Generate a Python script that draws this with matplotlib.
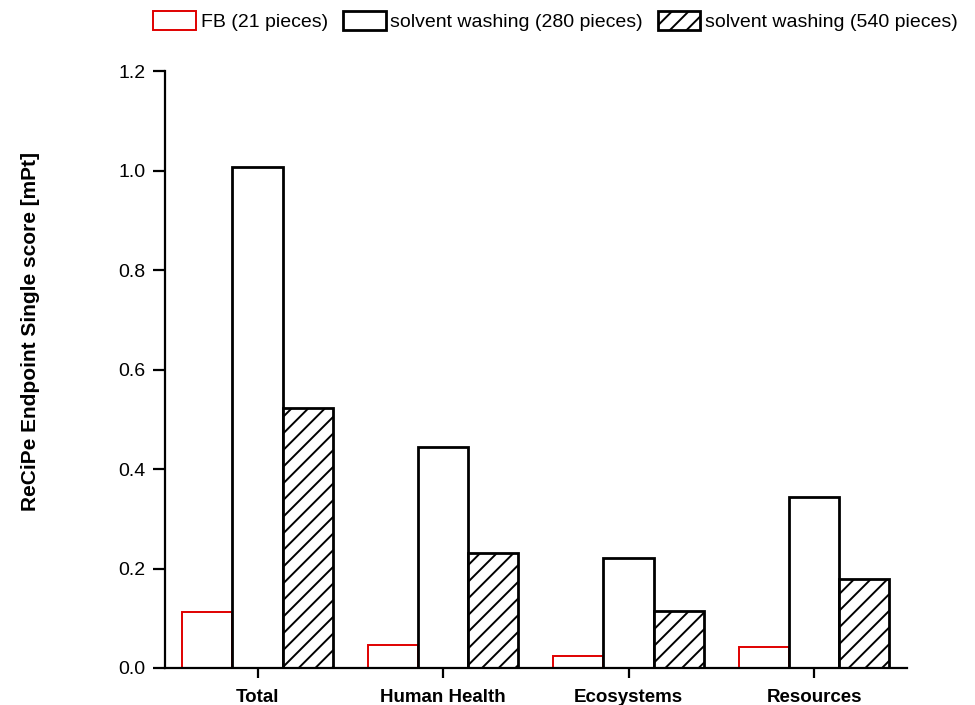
import numpy as np
import matplotlib
matplotlib.use('Agg')
import matplotlib.pyplot as plt

plt.rcParams['font.family'] = ['Liberation Sans', 'DejaVu Sans']
plt.rcParams['hatch.linewidth'] = 1.4

categories = ['Total', 'Human Health', 'Ecosystems', 'Resources']
fb_21 = [0.113, 0.046, 0.024, 0.042]
sw_280 = [1.007, 0.444, 0.222, 0.343]
sw_540 = [0.523, 0.231, 0.115, 0.179]
series_labels = ['FB (21 pieces)', 'solvent washing (280 pieces)', 'solvent washing (540 pieces)']

def main():
    fig = plt.figure(figsize=(9.75, 7.05), dpi=100)
    ax = fig.add_axes([0.169, 0.0525, 0.761, 0.8465])

    x = np.arange(len(categories))
    w = 0.27
    ax.bar(x - w, fb_21, w, facecolor='white', edgecolor='#e00000', linewidth=1.4, label=series_labels[0])
    ax.bar(x, sw_280, w, facecolor='white', edgecolor='black', linewidth=2.0, label=series_labels[1])
    ax.bar(x + w, sw_540, w, facecolor='white', edgecolor='black', linewidth=2.0, hatch='//', label=series_labels[2])

    ax.set_xlim(-0.5, 3.5)
    ax.set_ylim(0, 1.2)
    ax.set_yticks(np.arange(0, 1.21, 0.2))
    ax.set_yticklabels(['%.1f' % v for v in np.arange(0, 1.21, 0.2)])
    ax.set_xticks(x)
    ax.set_xticklabels(categories, fontweight='bold', fontsize=13.5)
    ax.tick_params(axis='y', labelsize=14, width=1.6, length=8.5, direction='out', pad=5.5)
    ax.tick_params(axis='x', width=1.6, length=7.5, direction='out', pad=7.5)
    for s in ['top', 'right']:
        ax.spines[s].set_visible(False)
    for s in ['left', 'bottom']:
        ax.spines[s].set_linewidth(1.6)

    ax.set_ylabel('ReCiPe Endpoint Single score [mPt]', fontweight='bold', fontsize=15)
    ax.yaxis.set_label_coords(-0.168, 0.563)

    fig.legend(loc='center', bbox_to_anchor=(0.570, 0.970), ncol=3, frameon=False,
               fontsize=14, handlelength=2.2, handleheight=1.1, handletextpad=0.25,
               columnspacing=0.75, borderaxespad=0)

    fig.savefig('out.png', dpi=100)

if __name__ == '__main__':
    main()
